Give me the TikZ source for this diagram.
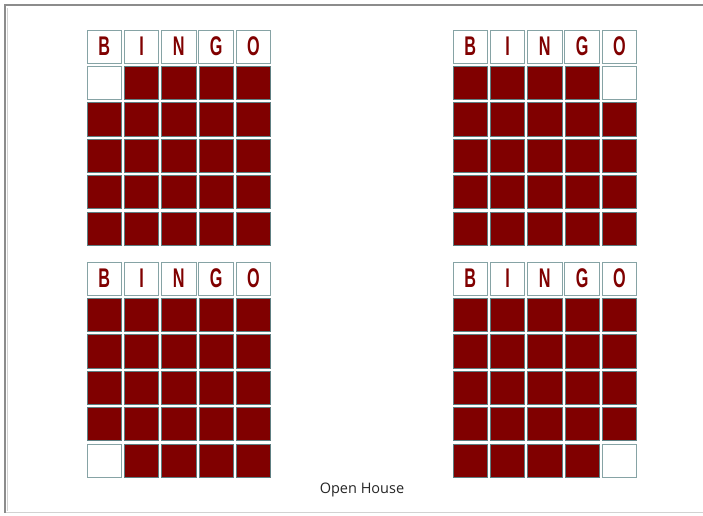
\documentclass[tikz,border=0pt]{standalone}
\usepackage{fontspec}
\setmainfont{Open Sans}
\newfontfamily\bingofont{Liberation Sans}
\definecolor{bingored}{HTML}{800000}
\definecolor{redborder}{HTML}{5E7F82}
\definecolor{hdrborder}{HTML}{86A3A5}
\definecolor{frameline}{HTML}{8C8C8C}
\definecolor{framelight}{HTML}{D2D2D2}
\tikzset{
  cellbase/.style={anchor=north west, minimum width=34.4pt, minimum height=33.2pt, inner sep=0pt, outer sep=0pt},
  redcell/.style={cellbase, fill=bingored, draw=redborder, line width=0.7pt},
  freecell/.style={cellbase, fill=white, draw=hdrborder, line width=1pt},
  hdrcell/.style={cellbase, fill=white, draw=hdrborder, line width=1pt, text=bingored,
    font=\bingofont\bfseries\fontsize{27}{27}\selectfont},
}
\begin{document}
\begin{tikzpicture}[x=1pt,y=-1pt]
\useasboundingbox (0,0) rectangle (703,515);
\fill[white] (0,0) rectangle (703,515);
\draw[framelight, line width=1.5pt] (5,512.5) -- (703,512.5);
\draw[frameline, line width=1.5pt] (703,5) -- (5,5) -- (5,512.5);
\draw[framelight, line width=1pt] (7.5,7.5) -- (7.5,511);
\foreach \cx/\cy/\nm/\ei/\ej in {87/30/tl/1/1, 453/30/tr/1/5, 87/262/bl/5/1, 453/262/br/5/5} {
  \foreach \L [count=\j] in {B,I,N,G,O} {
    \node[hdrcell] (\nm-h\j) at ({\cx+(\j-1)*37.3},{\cy}) {\scalebox{0.6}[1]{\L}};
  }
  \foreach \i in {1,...,5} {
    \foreach \j in {1,...,5} {
      \ifnum\i=\ei
        \ifnum\j=\ej \tikzset{cur/.style={freecell}}\else \tikzset{cur/.style={redcell}}\fi
      \else \tikzset{cur/.style={redcell}}\fi
      \node[cur] (\nm-\i-\j) at ({\cx+(\j-1)*37.3},{\cy+\i*36.4}) {};
    }
  }
}
\node[anchor=base, text=black!85, font=\fontsize{14.5}{14.5}\selectfont] (caption) at (362,493) {Open House};
\end{tikzpicture}
\end{document}
